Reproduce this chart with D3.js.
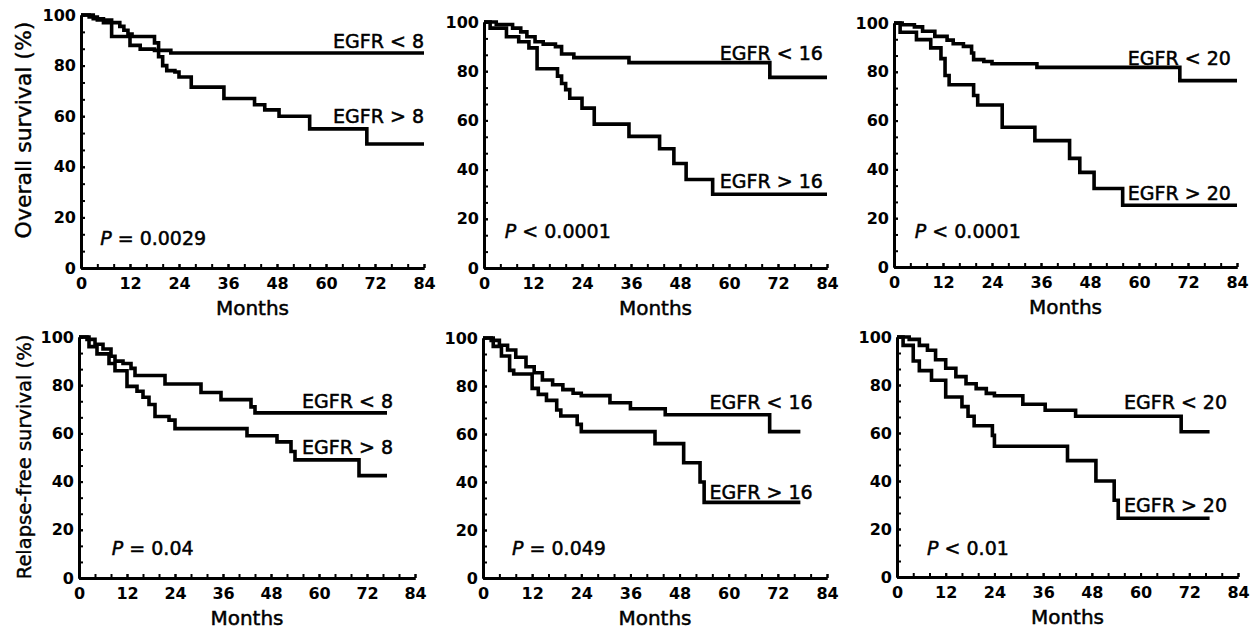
<!DOCTYPE html>
<html>
<head>
<meta charset="utf-8">
<title>EGFR survival curves</title>
<script src="https://d3js.org/d3.v7.min.js"></script>
<style>
	* { margin: 0; padding: 0; }
	body { background: #fff; }
	text { font-family: "DejaVu Sans", sans-serif; fill: #000; }
</style>
</head>
<body>
<svg id="chart" width="1260" height="630" xmlns="http://www.w3.org/2000/svg"></svg>
<script>
// axis ticks
var monthTicks = [0, 12, 24, 36, 48, 60, 72, 84];
var pctTicks = [0, 20, 40, 60, 80, 100];
var cutoffs = [8, 16, 20, 8, 16, 20];
var yTitles = ["Overall survival (%)", "Relapse-free survival (%)"];
var pOps = ["=", "<", "<", "=", "=", "<"];
var pValues = ["0.0029", "0.0001", "0.0001", "0.04", "0.049", "0.01"];

// Kaplan-Meier steps, [month, survival %]
var osLow8 = [[0,100],[2,99.2],[4,98],[7.5,91.5],[12,88],[14.5,86.5],[18,86],[22,85],[84,85]];
var osHigh8 = [[0,100],[3,98.5],[5.5,97],[9.5,95.5],[10.5,94],[11.5,92.5],[12.5,91.5],[18,89],[19,83.5],[20,80],[21,78],[23,77.5],[24,75.5],[27,71.5],[35,67],[42.5,64.5],[45,62.5],[48.5,60],[56,55],[70,49],[84,49]];
var osLow16 = [[0,100],[3,99],[7,97.5],[9,96],[10.5,94],[12.5,92],[14.5,91],[17.5,90],[19,87],[22,85.5],[35.5,83.5],[70,77.5],[84,77.5]];
var osHigh16 = [[0,100],[1.5,97.5],[5.5,94],[8.5,92],[11,89.5],[13,81],[18,78],[19,75],[20,72.5],[21,69],[24,65],[27,58.5],[35.5,53.5],[43,48.5],[46.5,42.5],[49.5,36],[56,30],[84,30]];
var osLow20 = [[0,100],[2,99.3],[5,98.4],[7,96.6],[10,94.5],[13,93],[14.5,91.5],[17,90.4],[19,87.7],[19.5,85],[22,84.2],[24,83.3],[35,81.8],[70,76.4],[84,76.4]];
var osHigh20 = [[0,100],[1.5,96.2],[5.5,93.2],[9,89.8],[11.5,85.4],[12.5,78.5],[13.5,74.7],[19.5,70.3],[20.5,66.4],[26.5,57.3],[34.5,51.8],[43,44.5],[45.5,38.8],[49,32.2],[56,25.3],[84,25.3]];
var rfsLow8 = [[0,100],[2,99],[4,97],[6,95],[8,92],[9,90],[11,89],[13,87],[14,84],[21.5,80.5],[30.5,77],[35.5,74],[43,71],[44,68.5],[77,68.5]];
var rfsHigh8 = [[0,100],[2.5,96],[4.5,93],[7.5,89],[9,86],[12,79.5],[14.5,77.5],[16,75],[17.5,72],[19,67],[22.5,65.5],[24,62],[42,59],[49.5,56.5],[53,52.5],[54,49],[70,42.5],[77,42.5]];
var rfsLow16 = [[0,100],[2,99],[4,97],[6,95],[8,92],[10.5,88],[12.5,85.5],[14.5,82.5],[17,80.5],[19.5,78.5],[22,77],[24,76],[31,73],[36,70.5],[44.5,68],[70,61],[77.5,61]];
var rfsHigh16 = [[0,100],[2.5,96.5],[4.5,92.5],[6.5,86.5],[7.5,85],[12,79],[13.5,76.5],[15.5,74],[18,70],[19,67.5],[23,64],[24,61],[42,56],[49,48],[53,40],[54,31.5],[77.5,31.5]];
var rfsLow20 = [[0,100],[3,99],[5.5,96.5],[7.5,94.5],[9.5,90.5],[12,87],[14.5,83.5],[17,80.5],[19.5,78.5],[22,76.5],[24,75.5],[31,72],[36.5,69.5],[44,67],[70,60.5],[77,60.5]];
var rfsHigh20 = [[0,100],[1.5,96.5],[4,90],[5.5,86],[8.5,82],[12,75],[16,71],[17.5,67],[19,63],[23.5,59],[24,54.5],[42,48.5],[49,40],[53.5,32],[54.5,24.5],[77,24.5]];

var lowSeries = [osLow8, osLow16, osLow20, rfsLow8, rfsLow16, rfsLow20];
var highSeries = [osHigh8, osHigh16, osHigh20, rfsHigh8, rfsHigh16, rfsHigh20];

// where the annotations sit, in data units (month, %)
var labelMonth = [84, 83, 82.5, 78.5, 80.5, 81.3];
var labelLowPct = [87, 84.6, 82.8, 70.5, 70.4, 70];
var labelHighPct = [57.3, 32.5, 27.5, 51.5, 32.9, 27];
var pMonth = [4.7, 5.1, 5.1, 8.2, 7.1, 7.4];
var pPct = [9.1, 12.2, 11.9, 9.5, 9.6, 9.2];

// pixel boxes of the six plots
var panels = [
	{ left: 81,  right: 424,  top: 15,  bottom: 268 },
	{ left: 484, right: 827,  top: 22,  bottom: 268 },
	{ left: 894, right: 1237, top: 23,  bottom: 267 },
	{ left: 79,  right: 415,  top: 337, bottom: 578 },
	{ left: 483, right: 827,  top: 338, bottom: 578 },
	{ left: 897, right: 1238, top: 337, bottom: 577 }
];
var titleCenters = [130, 457];

var svg = d3.select( "#chart" );
var minorMonths = d3.range( 0, 84.1, 4 );
var minorPcts = d3.range( 0, 100.1, 20 / 3 );

// thicken text a little, the scan is heavy
function heavy( sel, w ) {
	sel.attr( "stroke", "#000" ).attr( "stroke-width", w ).attr( "paint-order", "stroke" );
}

panels.forEach( function ( p, i ) {
	var x = d3.scaleLinear().domain( [0, 84] ).range( [p.left, p.right] );
	var y = d3.scaleLinear().domain( [0, 100] ).range( [p.bottom, p.top] );
	var g = svg.append( "g" );

	// minor ticks, pointing into the plot
	g.append( "g" ).attr( "transform", "translate(0," + p.bottom + ")" )
		.call( d3.axisBottom( x ).tickValues( minorMonths ).tickSize( -4 ).tickSizeOuter( 0 ).tickFormat( "" ) );
	g.append( "g" ).attr( "transform", "translate(" + p.left + ",0)" )
		.call( d3.axisLeft( y ).tickValues( minorPcts ).tickSize( -4 ).tickSizeOuter( 0 ).tickFormat( "" ) );

	// labelled axes
	g.append( "g" ).attr( "transform", "translate(0," + p.bottom + ")" )
		.call( d3.axisBottom( x ).tickValues( monthTicks ).tickSize( -4 ).tickSizeOuter( 0 ).tickPadding( 10 ) );
	g.append( "g" ).attr( "transform", "translate(" + p.left + ",0)" )
		.call( d3.axisLeft( y ).tickValues( pctTicks ).tickSize( -4 ).tickSizeOuter( 0 ).tickPadding( 5 ) );

	g.selectAll( ".domain" ).attr( "stroke", "#000" ).attr( "stroke-width", 3 );
	g.selectAll( ".tick line" ).attr( "stroke", "#000" ).attr( "stroke-width", 2 );
	g.selectAll( ".tick text" )
		.attr( "font-family", "DejaVu Sans" )
		.attr( "font-weight", "bold" )
		.attr( "font-size", 16 );

	heavy( g.append( "text" )
		.attr( "x", ( p.left + p.right ) / 2 )
		.attr( "y", p.bottom + 47 )
		.attr( "text-anchor", "middle" )
		.attr( "font-size", 20 )
		.text( "Months" ), 0.5 );

	// survival curves
	var line = d3.line()
		.x( function ( d ) { return x( d[0] ); } )
		.y( function ( d ) { return y( d[1] ); } )
		.curve( d3.curveStepAfter );

	[lowSeries[i], highSeries[i]].forEach( function ( s ) {
		g.append( "path" )
			.datum( s )
			.attr( "d", line )
			.attr( "fill", "none" )
			.attr( "stroke", "#000" )
			.attr( "stroke-width", 3.6 );
	});

	heavy( g.append( "text" )
		.attr( "x", x( labelMonth[i] ) )
		.attr( "y", y( labelLowPct[i] ) )
		.attr( "text-anchor", "end" )
		.attr( "font-size", 19 )
		.text( "EGFR < " + cutoffs[i] ), 0.5 );
	heavy( g.append( "text" )
		.attr( "x", x( labelMonth[i] ) )
		.attr( "y", y( labelHighPct[i] ) )
		.attr( "text-anchor", "end" )
		.attr( "font-size", 19 )
		.text( "EGFR > " + cutoffs[i] ), 0.5 );

	var pt = g.append( "text" )
		.attr( "x", x( pMonth[i] ) )
		.attr( "y", y( pPct[i] ) )
		.attr( "font-size", 19 );
	pt.append( "tspan" ).attr( "font-style", "italic" ).text( "P" );
	pt.append( "tspan" ).text( " " + pOps[i] + " " + pValues[i] );
	heavy( pt, 0.5 );

	if ( i % 3 == 0 ) {
		var row = i / 3;
		heavy( g.append( "text" )
			.attr( "transform", "translate(31," + titleCenters[row] + ") rotate(-90)" )
			.attr( "text-anchor", "middle" )
			.attr( "font-size", row == 0 ? 22 : 19.5 )
			.text( yTitles[row] ), 0.4 );
	}
});
</script>
</body>
</html>
